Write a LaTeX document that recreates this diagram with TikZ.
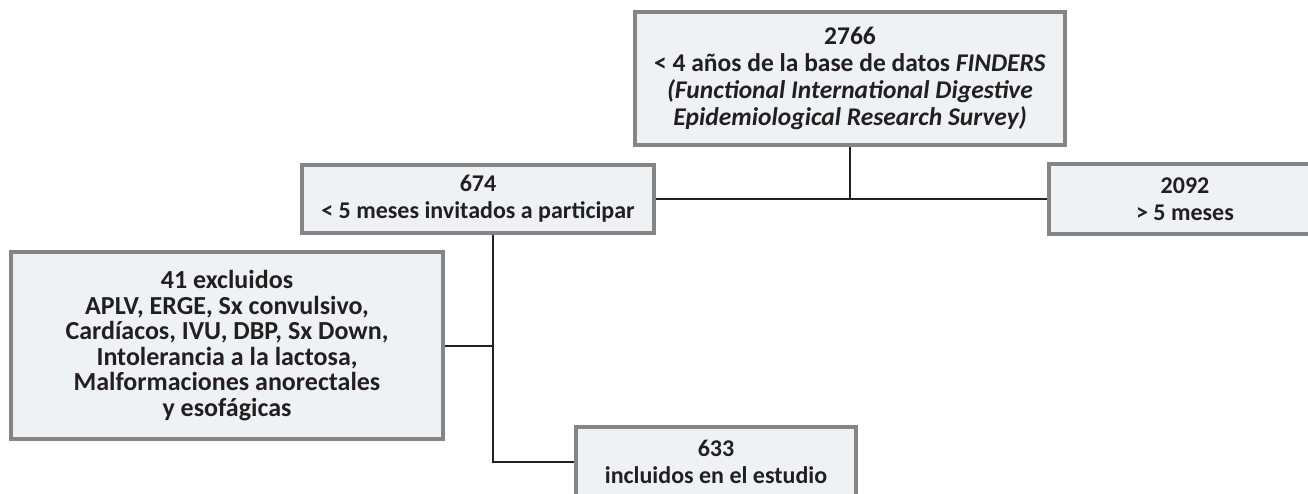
\documentclass[tikz,border=0pt]{standalone}
\usepackage{fontspec}
\setmainfont{Carlito}
\definecolor{boxfill}{HTML}{EFF2F4}
\definecolor{boxline}{HTML}{858585}
\definecolor{ink}{HTML}{231F20}
\begin{document}
\begin{tikzpicture}[x=1pt,y=-1pt,
  flowbox/.style={draw=boxline, line width=3.5pt, fill=boxfill, text=ink,
    align=center, inner sep=0pt, font=\fontsize{24}{27}\selectfont\bfseries},
  link/.style={draw=ink, line width=2pt}]
\useasboundingbox (0,0) rectangle (1308,493);
\node[flowbox, minimum width=430pt, minimum height=133pt,
  font=\fontsize{25.5}{27}\selectfont\bfseries] (top) at (850,78.5)
  {2766\\ < 4 años de la base de datos \textit{FINDERS}\\ \textit{(Functional International Digestive}\\ \textit{Epidemiological Research Survey)}};
\node[flowbox, minimum width=352pt, minimum height=68pt] (inv) at (478,199)
  {674\\ < 5 meses invitados a participar};
\node[flowbox, minimum width=272pt, minimum height=70pt] (old) at (1185,199)
  {2092\\ > 5 meses};
\node[flowbox, minimum width=432pt, minimum height=187pt,
  font=\fontsize{26}{25.5}\selectfont\bfseries] (exc) at (227,345.5)
  {41 excluidos\\ APLV, ERGE, Sx convulsivo,\\ Cardíacos, IVU, DBP, Sx Down,\\ Intolerancia a la lactosa,\\ Malformaciones anorectales\\ y esofágicas};
\node[flowbox, minimum width=280pt, minimum height=70pt] (inc) at (716,462)
  {633\\ incluidos en el estudio};
\coordinate (split) at (top.south |- inv.east);
\coordinate (down) at (493,0);
\draw[link] (top.south) -- (split);
\draw[link] (inv.east) -- (old.west);
\draw[link] (down |- inv.south) -- (down |- inc.west) -- (inc.west);
\draw[link] (exc.east) -- (down |- exc.east);
\end{tikzpicture}
\end{document}
